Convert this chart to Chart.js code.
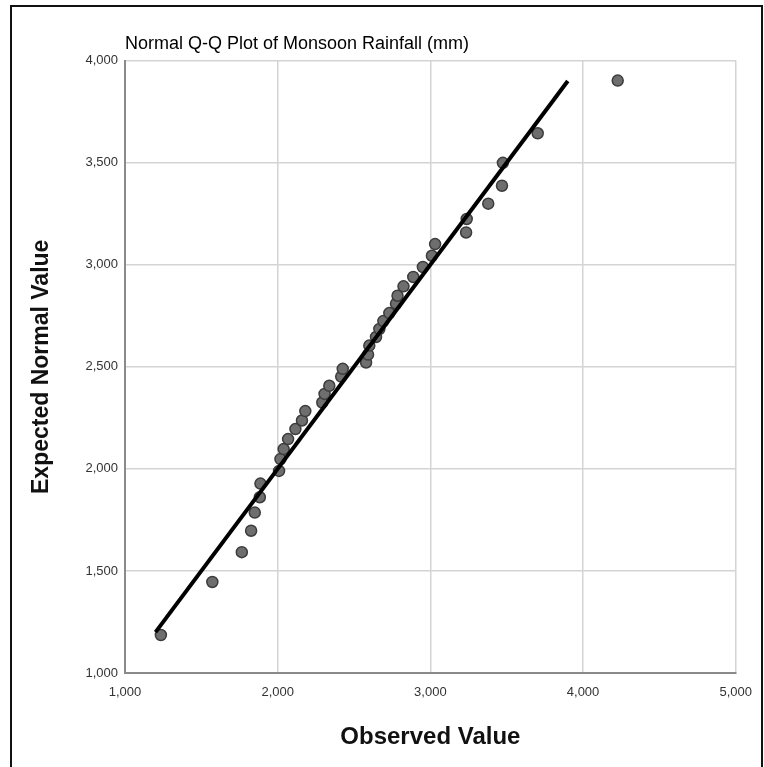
<!DOCTYPE html>
<html>
<head>
<meta charset="utf-8">
<title>Normal Q-Q Plot of Monsoon Rainfall (mm)</title>
<script src="https://cdn.jsdelivr.net/npm/chart.js@4.4.1/dist/chart.umd.min.js"></script>
<style>
    html, body { margin: 0; padding: 0; background: #fff; overflow: hidden; }
    #wrap { position: relative; width: 764px; height: 767px; }
    #frame {
        position: absolute; left: 10px; top: 5px; width: 749px; height: 800px;
        border: 2px solid #111; border-bottom: none; pointer-events: none;
    }
</style>
</head>
<body>
<div id="wrap">
    <canvas id="qq" width="764" height="767"></canvas>
    <div id="frame"></div>
</div>
<script>
// Observed rainfall (mm), sorted, and the matching expected normal values
const observed = [1235, 1572, 1765, 1826, 1850, 1883, 1887, 2009, 2018, 2039,
                  2068, 2116, 2159, 2181, 2292, 2307, 2338, 2416, 2426, 2579,
                  2592, 2600, 2644, 2666, 2692, 2731, 2775, 2785, 2824, 2888,
                  2951, 3010, 3031, 3234, 3238, 3379, 3469, 3475, 3703, 4227];
const expected = [1186, 1446, 1592, 1697, 1786, 1861, 1928, 1990, 2048, 2097,
                  2146, 2195, 2237, 2283, 2325, 2367, 2407, 2452, 2490, 2521,
                  2560, 2604, 2646, 2685, 2724, 2763, 2809, 2848, 2894, 2940,
                  2989, 3044, 3101, 3158, 3224, 3299, 3387, 3499, 3644, 3902];

// Reference line (y = x) endpoints
const lineEnds = [1200, 3900];

// Axis ranges
const xRange = { min: 1000, max: 5000, step: 1000 };
const yRange = { min: 1000, max: 4000, step: 500 };

const points = observed.map((v, i) => ({ x: v, y: expected[i] }));
const refLine = lineEnds.map(v => ({ x: v, y: v }));

const family = 'Liberation Sans, Arial, sans-serif';
const tickFont = { family, size: 13 };

new Chart(document.getElementById('qq'), {
    type: 'scatter',
    data: {
        datasets: [
            {
                type: 'line',
                data: refLine,
                borderColor: '#000',
                borderWidth: 4,
                pointRadius: 0,
                fill: false,
                order: 0
            },
            {
                data: points,
                backgroundColor: '#6e6e6e',
                borderColor: '#3c3c3c',
                borderWidth: 1.5,
                pointRadius: 5.5,
                order: 1
            }
        ]
    },
    options: {
        responsive: false,
        animation: false,
        layout: { padding: { left: 0, right: 22, top: 0, bottom: 0 } },
        plugins: {
            legend: { display: false },
            tooltip: { enabled: false },
            title: {
                display: true,
                text: 'Normal Q-Q Plot of Monsoon Rainfall (mm)',
                fullSize: false,
                align: 'start',
                color: '#000',
                font: { family, size: 18, weight: 'normal' },
                padding: { top: 33, bottom: 6 }
            }
        },
        scales: {
            x: {
                type: 'linear',
                min: xRange.min,
                max: xRange.max,
                ticks: { stepSize: xRange.step, color: '#333', font: tickFont, padding: 12 },
                grid: { color: '#d4d4d4', lineWidth: 1.5, drawTicks: false },
                border: { color: '#8a8a8a', width: 2 },
                title: {
                    display: true,
                    text: 'Observed Value',
                    color: '#111',
                    font: { family, size: 24, weight: 'bold' },
                    padding: { top: 0, bottom: 15 }
                },
                afterFit: (scale) => { scale.height = 94; }
            },
            y: {
                type: 'linear',
                min: yRange.min,
                max: yRange.max,
                ticks: { stepSize: yRange.step, color: '#333', font: tickFont, padding: 7 },
                grid: { color: '#d4d4d4', lineWidth: 1.5, drawTicks: false },
                border: { color: '#8a8a8a', width: 2 },
                title: {
                    display: true,
                    text: 'Expected Normal Value',
                    color: '#111',
                    font: { family, size: 23, weight: 'bold' },
                    padding: { top: 28, bottom: 0 }
                },
                afterFit: (scale) => { scale.width = 125; }
            }
        }
    }
});
</script>
</body>
</html>
